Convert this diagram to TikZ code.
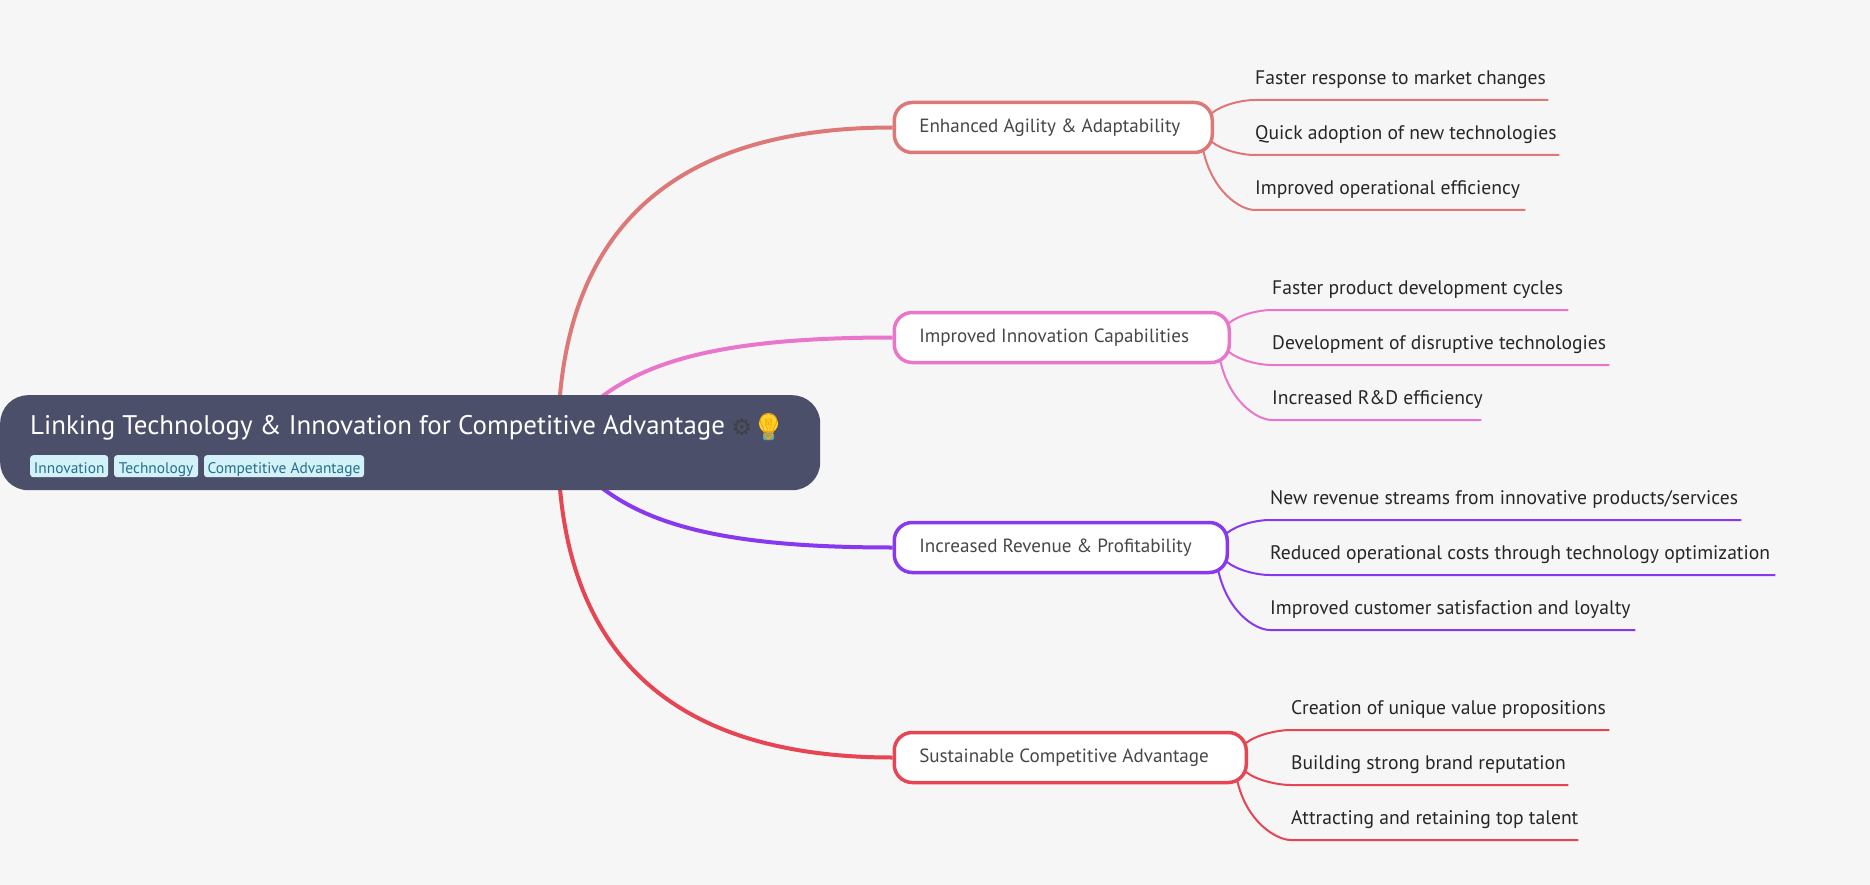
\documentclass[tikz,border=0pt]{standalone}
\usepackage{fontspec}
\usepackage{xcolor}
\usetikzlibrary{positioning, backgrounds, calc}
\setmainfont{PT Sans}
\newfontfamily\symfont{DejaVu Sans}
\newfontfamily\emojifont{Noto Emoji}

\definecolor{pagebg}{HTML}{F6F6F6}
\definecolor{rootbg}{HTML}{4C4F69}
\definecolor{tagbg}{HTML}{D3F1F8}
\definecolor{tagfg}{HTML}{276F8A}
\definecolor{flamingo}{HTML}{DD7878}
\definecolor{pinkish}{HTML}{EA76CB}
\definecolor{mauve}{HTML}{8839EF}
\definecolor{maroon}{HTML}{E64553}
\definecolor{bulbglow}{HTML}{FBD22E}
\definecolor{bulbbase}{HTML}{5FA9B5}

\tikzset{
    rootbox/.style={fill=rootbg, rounded corners=28pt, minimum width=820pt, minimum height=95pt, inner sep=0pt, anchor=north west},
    tagbox/.style={fill=tagbg, text=tagfg, rounded corners=3pt, text height=18pt, text depth=4pt, inner sep=0pt, font=\fontsize{15.4}{15}\selectfont},
    mainbox/.style={draw=#1, fill=white, line width=3.5pt, rounded corners=18pt, minimum height=50pt, inner xsep=25pt, inner ysep=0pt, anchor=west, text=black!72, font=\fontsize{19.1}{20}\selectfont},
    subbox/.style={anchor=south west, inner sep=0pt, text=black!85, minimum height=41pt, font=\fontsize{19.6}{20}\selectfont},
    mainlink/.style={draw=#1, line width=4pt},
    sublink/.style={draw=#1, line width=2pt}
}

\begin{document}
\begin{tikzpicture}[x=1pt, y=-1pt]
    \useasboundingbox (0,0) rectangle (1870,885);

    % Root with its title and tags
    \node[rootbox] (root) at (0,395) {};
    \coordinate (hub) at (558,442);
    \node[anchor=base west, inner sep=0pt, text=white, font=\fontsize{26.9}{30}\selectfont] (title) at (30,434)
        {Linking Technology \& Innovation for Competitive Advantage};
    \node[anchor=center, inner sep=0pt, text=black!75, font=\fontsize{23}{24}\symfont] (gear) at (742,427) {⚙};
    % The bulb glyph is an outline, so its colours go under it
    \fill[bulbglow] (768.5,423.5) circle (9.5);
    \fill[bulbbase, rounded corners=2pt] (763,433) rectangle (774,440);
    \node[anchor=center, inner sep=0pt, text=orange!75!yellow, font=\fontsize{26}{28}\emojifont] (bulb) at (768.5,427) {💡};
    \node[tagbox, minimum width=78pt, anchor=north west] (tagone) at (30,455) {\makebox[78pt]{Innovation}};
    \node[tagbox, right=5.5pt of tagone] (tagtwo) {\makebox[84pt]{Technology}};
    \node[tagbox, right=5.5pt of tagtwo] (tagthree) {\makebox[160pt]{Competitive Advantage}};

    % Main branches
    \foreach \branch/\txt/\boxw/\ypos/\col in {
        enhanced/{Enhanced Agility \& Adaptability}/268/127.5/flamingo,
        improved/{Improved Innovation Capabilities}/285/337.5/pinkish,
        increased/{Increased Revenue \& Profitability}/283/547.5/mauve,
        sustainable/{Sustainable Competitive Advantage}/302/757.5/maroon} {
        \node[mainbox=\col] (\branch) at (892.5,\ypos) {\makebox[\boxw pt][l]{\txt}};
    }

    % Leaves, one under the other
    \foreach \leaf/\txt/\xpos/\ypos/\boxw in {
        fasterresponse/{Faster response to market changes}/1255/100/293,
        quickadoption/{Quick adoption of new technologies}/1255/155/304,
        operational/{Improved operational efficiency}/1255/210/270,
        fasterproduct/{Faster product development cycles}/1272/310/296,
        disruptive/{Development of disruptive technologies}/1272/365/337,
        research/{Increased R\&D efficiency}/1272/420/209,
        streams/{New revenue streams from innovative products/services}/1270/520/471,
        costs/{Reduced operational costs through technology optimization}/1270/575/505,
        loyalty/{Improved customer satisfaction and loyalty}/1270/630/365,
        value/{Creation of unique value propositions}/1291/730/318,
        brand/{Building strong brand reputation}/1291/785/277,
        talent/{Attracting and retaining top talent}/1291/840/287} {
        \node[subbox] (\leaf) at (\xpos,\ypos) {\makebox[\boxw pt][l]{\txt}};
    }

    \begin{pgfonlayer}{background}
        \fill[pagebg] (0,0) rectangle (1870,885);

        % Curves run behind the boxes
        \draw[mainlink=flamingo] (hub) .. controls (558,232) and (670,127.5) .. (enhanced.west);
        \draw[mainlink=pinkish] (hub) .. controls (610,370) and (690,337.5) .. (improved.west);
        \draw[mainlink=mauve] (hub) .. controls (610,515) and (690,547.5) .. (increased.west);
        \draw[mainlink=maroon] (hub) .. controls (558,652) and (670,757.5) .. (sustainable.west);

        \foreach \parent/\one/\two/\three/\col in {
            enhanced/fasterresponse/quickadoption/operational/flamingo,
            improved/fasterproduct/disruptive/research/pinkish,
            increased/streams/costs/loyalty/mauve,
            sustainable/value/brand/talent/maroon} {
            \draw[sublink=\col] ($(\parent.east)+(-2,-14.5)$) .. controls +(10,-8) and +(-14,0) .. (\one.south west) -- (\one.south east);
            \draw[sublink=\col] ($(\parent.east)+(-2,14.5)$) .. controls +(10,8) and +(-14,0) .. (\two.south west) -- (\two.south east);
            \draw[sublink=\col] ($(\parent.east)+(-11,22)$) .. controls +(9,42) and +(-15,0) .. (\three.south west) -- (\three.south east);
        }
    \end{pgfonlayer}
\end{tikzpicture}
\end{document}
